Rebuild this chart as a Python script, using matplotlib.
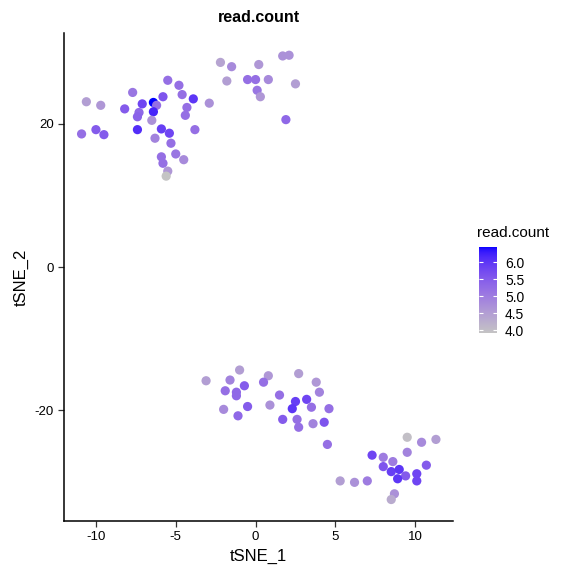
import numpy as np
import matplotlib
matplotlib.use("Agg")
import matplotlib.pyplot as plt
from matplotlib.colors import ListedColormap, to_rgb

plt.rcParams['font.family'] = ['Liberation Sans', 'DejaVu Sans']
plt.rcParams['axes.unicode_minus'] = False

# tSNE coordinates and read.count values
tsne_1 = [-2.2, -1.5, -1.8, -5.5, -4.8, -7.7, -5.8, -4.6, -3.9, -2.9,
          -10.6, -9.7, -8.2, -7.1, -6.4, -6.2, -6.4, -7.3, -7.4, -4.3,
          -4.4, -6.5, -10.9, -10.0, -9.5, -7.4, -5.9, -5.4, -3.8, -6.3,
          -5.3, -5.0, -5.9, -4.5, -5.8, -5.5, -5.6,
          0.2, 1.7, 2.1, -0.5, 0.0, 0.8, 2.5, 0.1, 0.3, 1.9,
          -3.1, -1.0, -1.6, -1.9, -1.2, -1.2, -0.7, 0.8, 0.5, -2.0,
          -1.1, -0.5, 0.9, 1.5, 2.7, 3.8, 4.0, 2.5, 3.2, 2.3,
          3.5, 4.6, 1.7, 2.6, 2.7, 3.6, 4.3, 4.5,
          9.5, 10.4, 11.3, 9.5, 7.3, 8.0, 8.6, 8.0, 8.5, 9.0,
          9.4, 10.1, 10.7, 8.9, 10.1, 5.3, 6.2, 7.0, 8.7, 8.5]
tsne_2 = [28.6, 28.0, 26.0, 26.1, 25.4, 24.4, 23.8, 24.1, 23.5, 22.9,
          23.1, 22.6, 22.1, 22.8, 23.0, 22.6, 21.7, 21.6, 21.0, 22.3,
          21.2, 20.5, 18.6, 19.2, 18.5, 19.2, 19.3, 18.7, 19.2, 18.0,
          17.3, 15.8, 15.4, 15.0, 14.5, 13.4, 12.7,
          28.3, 29.5, 29.6, 26.2, 26.2, 26.2, 25.6, 24.7, 23.8, 20.6,
          -15.9, -14.4, -15.8, -17.3, -17.5, -18.0, -16.6, -15.2, -16.1, -19.9,
          -20.8, -19.5, -19.3, -17.9, -14.9, -16.1, -17.5, -18.8, -18.5, -19.8,
          -19.6, -19.8, -21.3, -21.3, -22.4, -21.9, -21.7, -24.8,
          -23.8, -24.5, -24.1, -25.9, -26.3, -26.6, -27.2, -27.9, -28.6, -28.3,
          -29.2, -28.9, -27.7, -29.6, -29.9, -29.9, -30.1, -29.9, -31.7, -32.5]
read_count = [4.4, 4.8, 4.5, 5.2, 5.2, 5.1, 5.6, 5.2, 6.0, 4.7,
              4.5, 4.6, 5.5, 5.8, 6.45, 5.2, 6.2, 5.3, 5.4, 5.2,
              5.2, 4.7, 5.2, 5.5, 5.5, 6.1, 5.9, 5.8, 5.2, 4.9,
              5.2, 5.1, 5.2, 4.8, 5.2, 4.6, 3.92,
              4.6, 4.7, 4.7, 5.2, 5.2, 4.8, 4.5, 5.1, 4.6, 5.3,
              4.5, 4.5, 4.9, 5.2, 5.3, 5.3, 5.5, 4.6, 5.2, 4.8,
              5.3, 5.5, 4.7, 5.2, 4.5, 4.6, 4.9, 5.9, 5.8, 6.0,
              5.2, 5.2, 5.5, 5.2, 5.2, 4.9, 5.6, 5.2,
              4.0, 4.8, 4.5, 4.9, 5.8, 5.0, 5.0, 5.6, 5.9, 6.0,
              5.5, 5.8, 5.5, 6.0, 5.8, 4.5, 4.7, 5.0, 4.7, 4.3]


def srgb_to_lab(c):
    c = np.asarray(c, dtype=float)
    lin = np.where(c <= 0.04045, c / 12.92, ((c + 0.055) / 1.055) ** 2.4)
    M = np.array([[0.4124, 0.3576, 0.1805],
                  [0.2126, 0.7152, 0.0722],
                  [0.0193, 0.1192, 0.9505]])
    xyz = M @ lin / np.array([0.95047, 1.0, 1.08883])
    d = 6 / 29
    f = np.where(xyz > d ** 3, np.cbrt(xyz), xyz / (3 * d * d) + 4 / 29)
    return np.array([116 * f[1] - 16, 500 * (f[0] - f[1]), 200 * (f[1] - f[2])])


def lab_to_srgb(lab):
    L, a, b = lab
    fy = (L + 16) / 116
    fx = fy + a / 500
    fz = fy - b / 200
    d = 6 / 29
    f = np.array([fx, fy, fz])
    xyz = np.where(f > d, f ** 3, 3 * d * d * (f - 4 / 29)) * np.array([0.95047, 1.0, 1.08883])
    Minv = np.linalg.inv(np.array([[0.4124, 0.3576, 0.1805],
                                   [0.2126, 0.7152, 0.0722],
                                   [0.0193, 0.1192, 0.9505]]))
    lin = np.clip(Minv @ xyz, 0, 1)
    c = np.where(lin <= 0.0031308, 12.92 * lin, 1.055 * lin ** (1 / 2.4) - 0.055)
    return np.clip(c, 0, 1)


# ggplot-like grey -> blue gradient interpolated in Lab space
lo = srgb_to_lab(to_rgb("#C4C4C4"))
hi = srgb_to_lab(to_rgb("blue"))
cmap = ListedColormap([lab_to_srgb(lo + (hi - lo) * t) for t in np.linspace(0, 1, 256)])

fig = plt.figure(figsize=(5.65, 5.72), dpi=100)
ax = fig.add_axes([0.1133, 0.0892, 0.6885, 0.853])

sc = ax.scatter(tsne_1, tsne_2, c=read_count, cmap=cmap, s=44, linewidths=0,
                vmin=min(read_count), vmax=max(read_count))

ax.set_xlim(-12.0, 12.37)
ax.set_ylim(-35.5, 32.7)
ax.set_xticks([-10, -5, 0, 5, 10])
ax.set_yticks([-20, 0, 20])
for side in ["top", "right"]:
    ax.spines[side].set_visible(False)
for side in ["left", "bottom"]:
    ax.spines[side].set_linewidth(1.1)
    ax.spines[side].set_color("black")
ax.tick_params(length=4, width=0.9, color="#333333", labelsize=9.5, labelcolor="black")
ax.set_xlabel("tSNE_1", fontsize=12)
ax.set_ylabel("tSNE_2", fontsize=12)
ax.set_title("read.count", fontsize=11.5, fontweight="bold", pad=8)

cax = fig.add_axes([0.8478, 0.4178, 0.0313, 0.1509])
cb = fig.colorbar(sc, cax=cax)
cb.outline.set_visible(False)
cb.set_ticks([4.0, 4.5, 5.0, 5.5, 6.0])
cb.set_ticklabels(["4.0", "4.5", "5.0", "5.5", "6.0"])
cax.tick_params(left=True, right=True, direction="in", color="white",
                length=3, width=0.8, labelsize=10, pad=6)
fig.text(0.844, 0.58, "read.count", fontsize=11, va="bottom", ha="left")

fig.savefig("out.png", dpi=100)
